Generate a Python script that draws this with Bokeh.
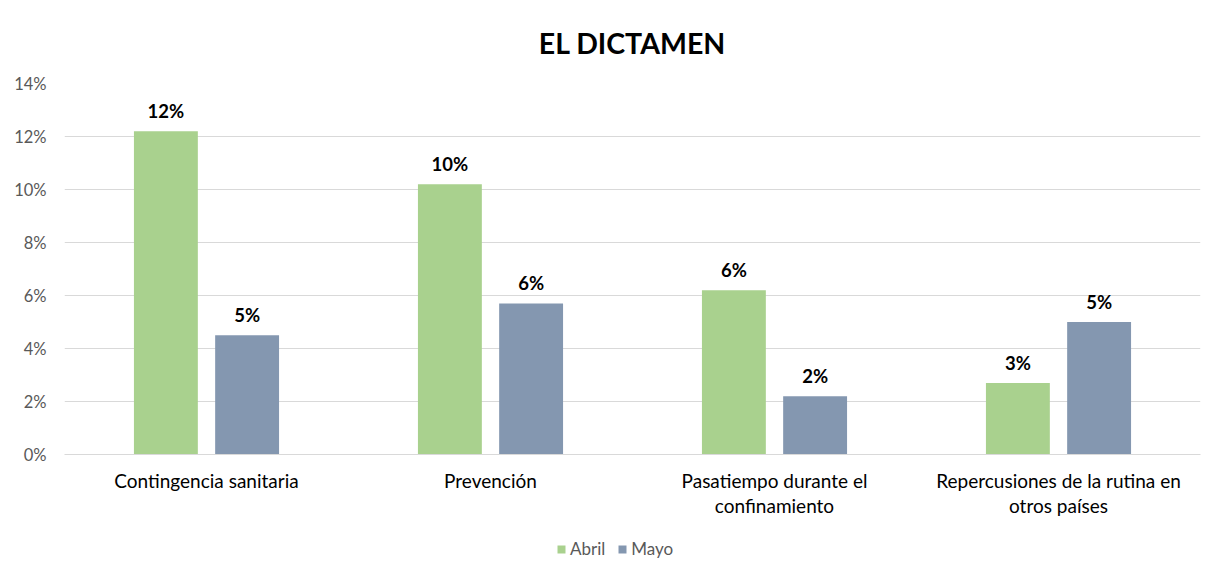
from bokeh.plotting import figure
from bokeh.layouts import column
from bokeh.models import (ColumnDataSource, Range1d, LabelSet, Legend, LegendItem,
                          NumeralTickFormatter, LinearAxis, FixedTicker)
from bokeh.core.properties import value
from bokeh.transform import dodge
from bokeh.embed import file_html
from bokeh.resources import INLINE

categories = ["Contingencia sanitaria", "Prevención", "Pasatiempo durante el confinamiento", "Repercusiones de la rutina en otros países"]
label_line1 = ["Contingencia sanitaria", "Prevención", "Pasatiempo durante el", "Repercusiones de la rutina en"]
label_line2 = ["", "", "confinamiento", "otros países"]
series = ["Abril", "Mayo"]
colors = ["#A9D18E", "#8497B0"]
abril = [0.122, 0.102, 0.062, 0.027]
mayo = [0.045, 0.057, 0.022, 0.050]
abril_lbl = ["12%", "10%", "6%", "3%"]
mayo_lbl = ["5%", "6%", "2%", "5%"]

FONT = "Lato"
W = 1211
idx = list(range(len(categories)))
src = ColumnDataSource(dict(i=idx, cat=categories, abril=abril, mayo=mayo, al=abril_lbl, ml=mayo_lbl))

p = figure(x_range=Range1d(-0.5, len(categories) - 0.5), y_range=(0, 0.14), width=W, height=531,
           output_backend="svg", toolbar_location=None, min_border_left=64, min_border_right=11,
           min_border_top=83, min_border_bottom=77, x_axis_type=None)
p.title.text = "EL DICTAMEN"
p.title.align = "center"
p.title.offset = -19
p.title.text_font = FONT
p.title.text_font_size = "28.5px"
p.title.text_font_style = "bold"
p.title.text_color = "#000000"
p.title.standoff = 47

p.vbar(x=dodge("i", -0.143), top="abril", width=0.225, source=src, color=colors[0], line_color=None)
p.vbar(x=dodge("i", 0.143), top="mayo", width=0.225, source=src, color=colors[1], line_color=None)

for xo, col, lab in [(-0.143, "abril", "al"), (0.143, "mayo", "ml")]:
    ls = LabelSet(x=dodge("i", xo), y=col, text=lab, source=src,
                  text_align="center", text_baseline="bottom", y_offset=9,
                  text_font=value(FONT), text_font_size=value("18.5px"), text_font_style="bold",
                  text_color="#000000")
    p.add_layout(ls)

p.outline_line_color = None
p.xgrid.grid_line_color = None
p.ygrid.grid_line_color = "#D9D9D9"
p.ygrid.grid_line_width = 1

p.yaxis.formatter = NumeralTickFormatter(format="0%")
p.yaxis.ticker = [0, 0.02, 0.04, 0.06, 0.08, 0.10, 0.12, 0.14]
p.yaxis.axis_line_color = None
p.yaxis.major_tick_line_color = None
p.yaxis.minor_tick_line_color = None
p.yaxis.major_label_text_font = FONT
p.yaxis.major_label_text_font_size = "16.5px"
p.yaxis.major_label_text_color = "#595959"
p.yaxis.major_label_standoff = 12

def make_x(lines, standoff, line_color):
    ax = LinearAxis(ticker=FixedTicker(ticks=idx),
                    major_label_overrides={i: t for i, t in zip(idx, lines)})
    ax.axis_line_color = line_color
    ax.major_tick_line_color = None
    ax.minor_tick_line_color = None
    ax.major_label_text_font = FONT
    ax.major_label_text_font_size = "19px"
    ax.major_label_text_color = "#000000"
    ax.major_label_standoff = standoff
    p.add_layout(ax, "below")

make_x(label_line1, 8, "#D9D9D9")
make_x(label_line2, -7, None)

# legend strip (legend glyph renderers sit outside the visible range)
lg = figure(width=W, height=40, x_range=(0, 1), y_range=(0, 1), output_backend="svg",
            toolbar_location=None, x_axis_type=None, y_axis_type=None, min_border=0)
lg.outline_line_color = None
lg.xgrid.visible = False
lg.ygrid.visible = False
items = []
for name, c in zip(series, colors):
    r = lg.quad(left=[2], right=[3], top=[3], bottom=[2], fill_color=c, line_color=None)
    items.append(LegendItem(label=name, renderers=[r]))
legend = Legend(items=items, orientation="horizontal", location=(492, 12), border_line_color=None,
                background_fill_alpha=0,
                label_text_font=FONT, label_text_font_size="17px", label_text_color="#595959",
                glyph_width=10, glyph_height=10, spacing=12, label_standoff=4, padding=0, margin=0)
lg.add_layout(legend, "center")

layout = column(p, lg, spacing=0)
open("out.html", "w").write(file_html(layout, INLINE))
